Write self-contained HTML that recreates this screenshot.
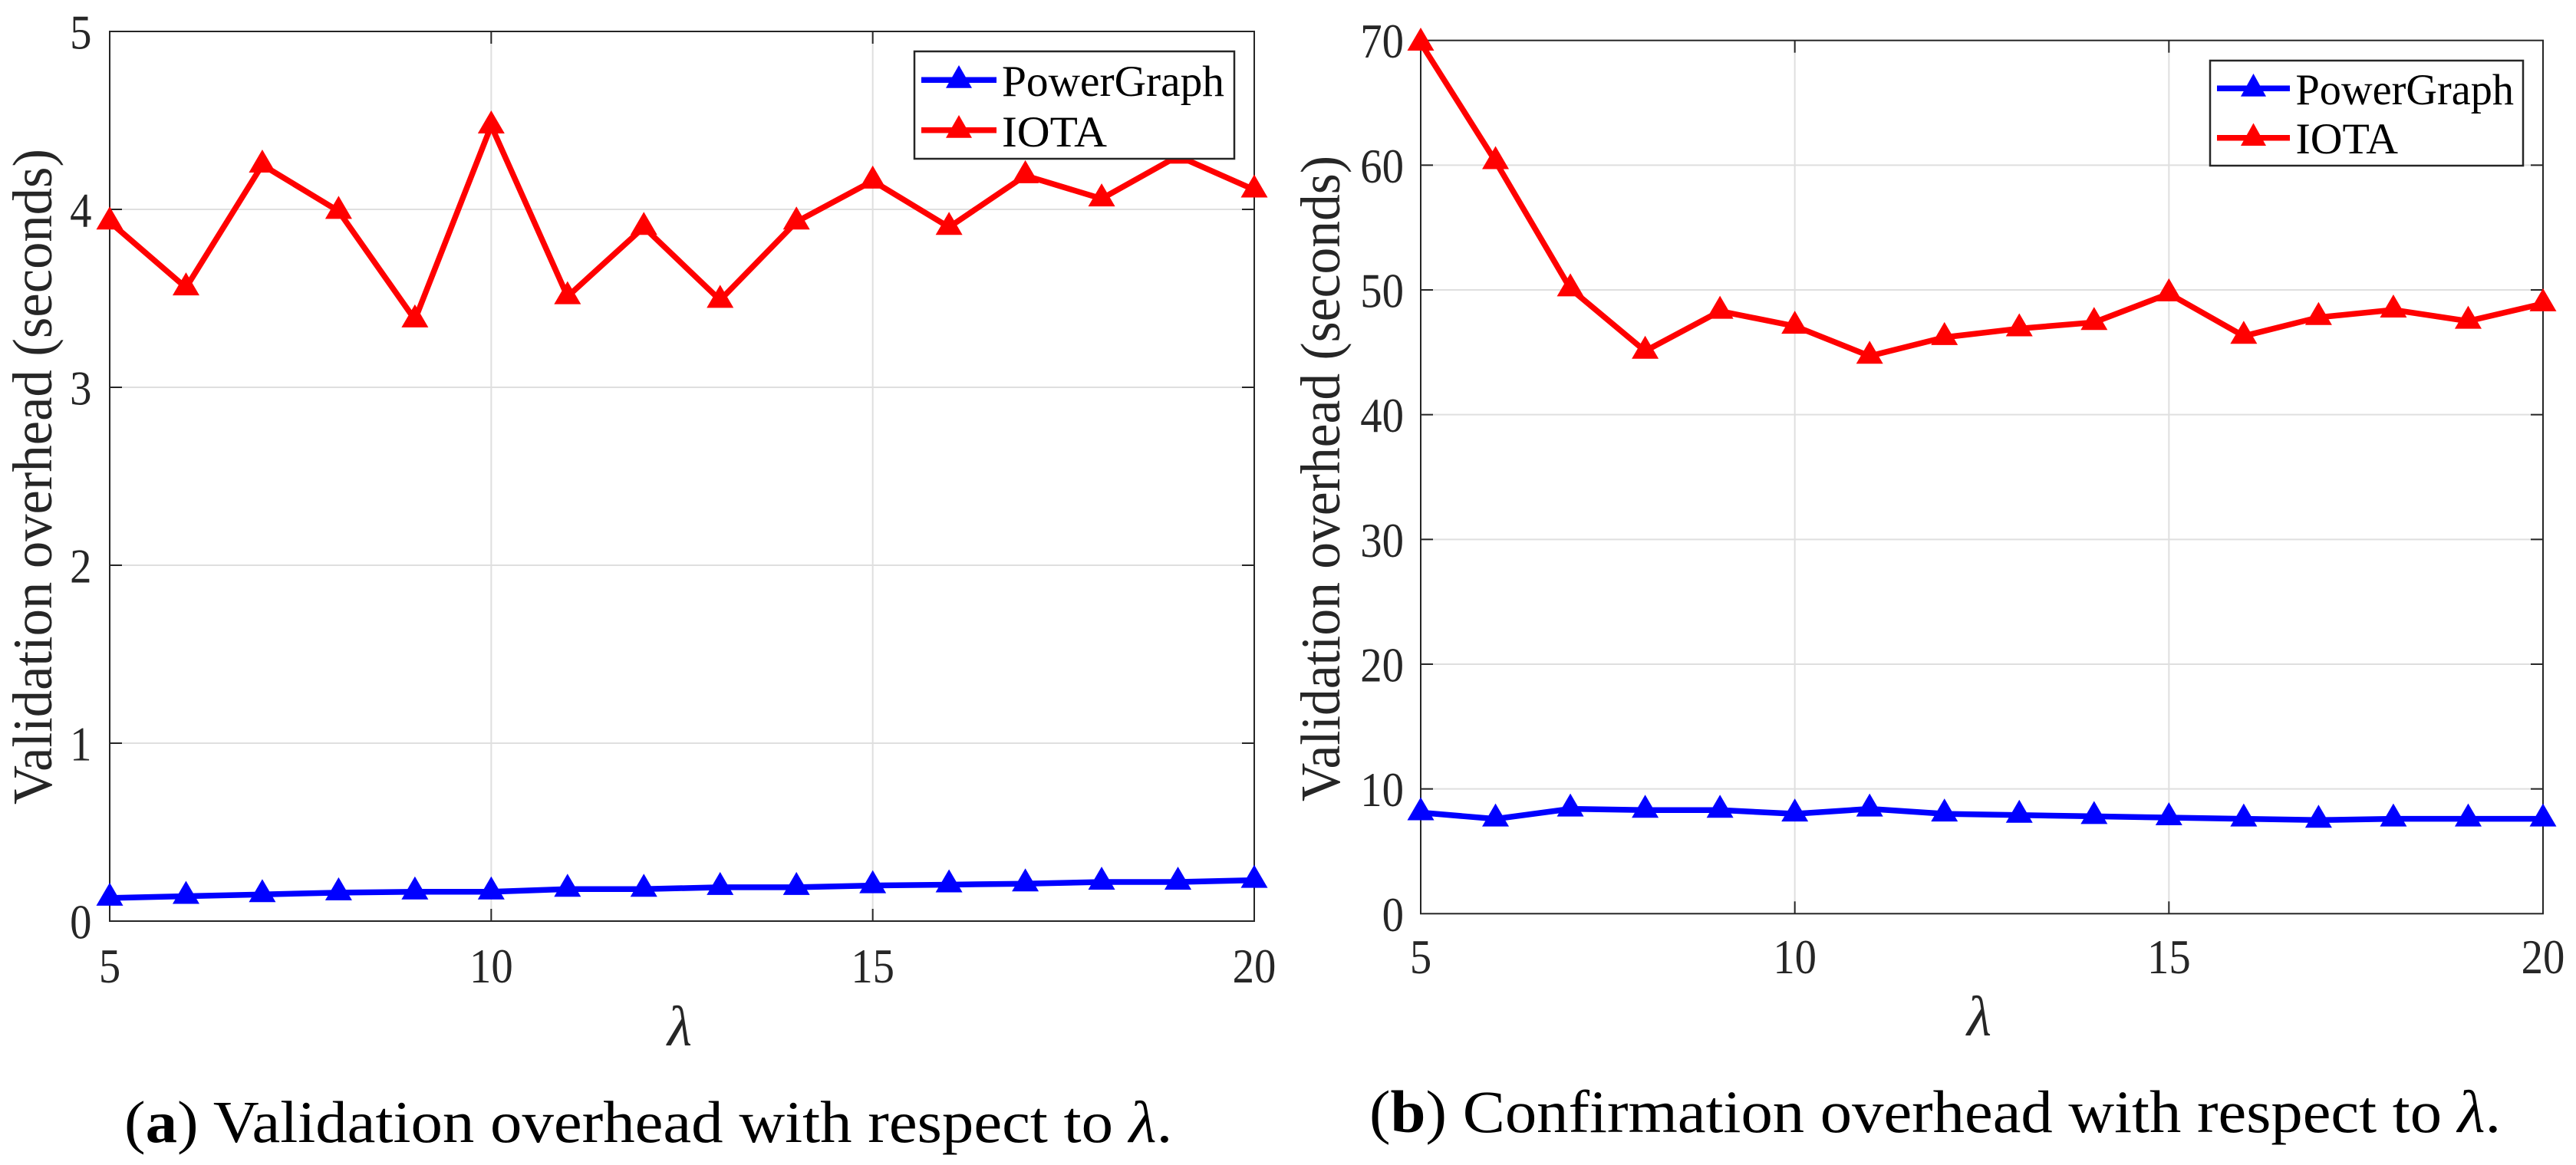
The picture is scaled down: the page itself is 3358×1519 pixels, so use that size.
<!DOCTYPE html>
<html lang="en">
<head>
<meta charset="utf-8">
<title>Validation and confirmation overhead with respect to lambda</title>
<style>
html,body{margin:0;padding:0;background:#fff;width:3358px;height:1519px;overflow:hidden}
svg{display:block}
text{font-family:"Liberation Serif",serif}
</style>
</head>
<body>
<svg id="figure" xmlns="http://www.w3.org/2000/svg" width="3358" height="1519" viewBox="0 0 3358 1519">
  <rect x="0" y="0" width="3358" height="1519" fill="#fff"/>
  <g id="panel-a"></g>
  <g id="panel-b"></g>

  <g>
    <rect x="1192" y="67" width="417" height="140" fill="#fff" stroke="#262626" stroke-width="2.5"/>
    <line x1="1201" x2="1299" y1="104.3" y2="104.3" stroke="#0000ff" stroke-width="7.5"/>
    <polygon points="1250,85 1267,114.7 1233,114.7" fill="#0000ff"/>
    <text x="1306" y="125" font-size="57" fill="#000" textLength="290" lengthAdjust="spacingAndGlyphs">PowerGraph</text>
    <line x1="1201" x2="1299" y1="169.7" y2="169.7" stroke="#ff0000" stroke-width="7.5"/>
    <polygon points="1250,150 1267,179.7 1233,179.7" fill="#ff0000"/>
    <text x="1306" y="191" font-size="57" fill="#000" textLength="137" lengthAdjust="spacingAndGlyphs">IOTA</text>
  </g>

  <g>
    <rect x="2881" y="79" width="408" height="137" fill="#fff" stroke="#262626" stroke-width="2.5"/>
    <line x1="2890" x2="2985" y1="115.3" y2="115.3" stroke="#0000ff" stroke-width="7.5"/>
    <polygon points="2937.5,96 2954,125.7 2921,125.7" fill="#0000ff"/>
    <text x="2992.5" y="136" font-size="57" fill="#000" textLength="284.5" lengthAdjust="spacingAndGlyphs">PowerGraph</text>
    <line x1="2890" x2="2985" y1="179.7" y2="179.7" stroke="#ff0000" stroke-width="7.5"/>
    <polygon points="2937.5,160.5 2954,190 2921,190" fill="#ff0000"/>
    <text x="2992.5" y="200" font-size="57" fill="#000" textLength="133.5" lengthAdjust="spacingAndGlyphs">IOTA</text>
  </g>

  <text transform="translate(162,1489) scale(1.076,1)" font-size="77" fill="#000">(<tspan font-weight="bold">a</tspan>) Validation overhead with respect to <tspan font-style="italic">λ</tspan>.</text>
  <text transform="translate(1785,1476) scale(1.06,1)" font-size="78" fill="#000">(<tspan font-weight="bold">b</tspan>) Confirmation overhead with respect to <tspan font-style="italic">λ</tspan>.</text>
</svg>

<script>
const lambdaValues = [5,6,7,8,9,10,11,12,13,14,15,16,17,18,19,20];
const xTickValues = [5,10,15,20];

const panelAYTicks = [0,1,2,3,4,5];
const panelAPowerGraph = [0.13,0.14,0.15,0.16,0.165,0.165,0.18,0.18,0.19,0.19,0.2,0.205,0.21,0.22,0.22,0.23];
const panelAIota = [3.93,3.56,4.25,3.99,3.38,4.47,3.51,3.90,3.49,3.93,4.16,3.90,4.19,4.06,4.30,4.11];

const panelBYTicks = [0,10,20,30,40,50,60,70];
const panelBPowerGraph = [8.1,7.6,8.4,8.3,8.3,8.0,8.4,8.0,7.9,7.8,7.7,7.6,7.5,7.6,7.6,7.6];
const panelBIota = [69.8,60.3,50.1,45.1,48.3,47.1,44.7,46.2,46.9,47.4,49.7,46.3,47.8,48.4,47.5,48.9];

const SVG_NS = 'http://www.w3.org/2000/svg';
const AXIS_COLOR = '#262626';
const GRID_COLOR = '#dfdfdf';

function make(parent, tag, attrs) {
  const node = document.createElementNS(SVG_NS, tag);
  Object.keys(attrs).forEach(function (k) { node.setAttribute(k, attrs[k]); });
  parent.appendChild(node);
  return node;
}

function drawPanel(root, cfg, yTicks, powerGraph, iota) {
  const xMin = xTickValues[0];
  const xMax = xTickValues[xTickValues.length - 1];
  const yMin = yTicks[0];
  const yMax = yTicks[yTicks.length - 1];
  const xScale = function (v) { return cfg.left + (v - xMin) / (xMax - xMin) * (cfg.right - cfg.left); };
  const yScale = function (v) { return cfg.bottom - (v - yMin) / (yMax - yMin) * (cfg.bottom - cfg.top); };

  xTickValues.slice(1, -1).forEach(function (t) {
    const grid = make(root, 'line', {x1: xScale(t), x2: xScale(t), y1: cfg.top, y2: cfg.bottom, stroke: GRID_COLOR, 'stroke-width': 2});
    
    
  });
  yTicks.slice(1, -1).forEach(function (t) {
    const grid = make(root, 'line', {x1: cfg.left, x2: cfg.right, y1: yScale(t), y2: yScale(t), stroke: GRID_COLOR, 'stroke-width': 2});
    
    
  });

  const frame = make(root, 'rect', {x: cfg.left, y: cfg.top, width: cfg.right - cfg.left, height: cfg.bottom - cfg.top, fill: 'none', stroke: AXIS_COLOR, 'stroke-width': 2});
  
  

  xTickValues.slice(1, -1).forEach(function (t) {
    const bottomTick = make(root, 'line', {x1: xScale(t), x2: xScale(t), y1: cfg.bottom, y2: cfg.bottom - 16, stroke: AXIS_COLOR, 'stroke-width': 2});
    
    
    const topTick = make(root, 'line', {x1: xScale(t), x2: xScale(t), y1: cfg.top, y2: cfg.top + 16, stroke: AXIS_COLOR, 'stroke-width': 2});
    
    
  });
  yTicks.slice(1, -1).forEach(function (t) {
    const leftTick = make(root, 'line', {x1: cfg.left, x2: cfg.left + 16, y1: yScale(t), y2: yScale(t), stroke: AXIS_COLOR, 'stroke-width': 2});
    
    
    const rightTick = make(root, 'line', {x1: cfg.right, x2: cfg.right - 16, y1: yScale(t), y2: yScale(t), stroke: AXIS_COLOR, 'stroke-width': 2});
    
    
  });

  xTickValues.forEach(function (t) {
    const label = make(root, 'text', {transform: 'translate(' + xScale(t) + ',' + cfg.xLabelBaseline + ') scale(0.9,1)', 'font-size': 63, fill: AXIS_COLOR, 'text-anchor': 'middle'});
    
    
    label.textContent = t;
  });
  yTicks.forEach(function (t) {
    const label = make(root, 'text', {transform: 'translate(' + cfg.yLabelRight + ',' + (yScale(t) + 22.5) + ') scale(0.9,1)', 'font-size': 63, fill: AXIS_COLOR, 'text-anchor': 'end'});
    
    
    label.textContent = t;
  });

  const xTitle = make(root, 'text', {x: cfg.lambdaX, y: cfg.lambdaBaseline, 'font-size': 74, 'font-style': 'italic', fill: AXIS_COLOR});
  
  
  xTitle.textContent = 'λ';

  const yTitle = make(root, 'text', {transform: 'translate(' + cfg.yTitleX + ',' + cfg.yTitleBottom + ') rotate(-90)', 'font-size': 73, fill: AXIS_COLOR, textLength: cfg.yTitleLength, lengthAdjust: 'spacingAndGlyphs'});
  
  
  yTitle.textContent = 'Validation overhead (seconds)';

  drawSeries(root, 'powergraph', powerGraph, '#0000ff', xScale, yScale);
  drawSeries(root, 'iota', iota, '#ff0000', xScale, yScale);
}

function drawSeries(root, name, values, color, xScale, yScale) {
  const pts = values.map(function (v, i) { return xScale(lambdaValues[i]) + ',' + yScale(v); }).join(' ');
  const line = make(root, 'polyline', {points: pts, fill: 'none', stroke: color, 'stroke-width': 7.5, 'stroke-linejoin': 'miter'});
  
  
  values.forEach(function (v, i) {
    const cx = xScale(lambdaValues[i]);
    const cy = yScale(v);
    const marker = make(root, 'polygon', {points: cx + ',' + (cy - 20) + ' ' + (cx + 17.5) + ',' + (cy + 10) + ' ' + (cx - 17.5) + ',' + (cy + 10), fill: color});
    
    
  });
}

drawPanel(document.getElementById('panel-a'), {
  left: 143, right: 1635, top: 41, bottom: 1201,
  xLabelBaseline: 1281, yLabelRight: 119.5,
  lambdaX: 870, lambdaBaseline: 1363,
  yTitleX: 67, yTitleBottom: 1049, yTitleLength: 855
}, panelAYTicks, panelAPowerGraph, panelAIota);

drawPanel(document.getElementById('panel-b'), {
  left: 1852, right: 3315, top: 52.7, bottom: 1191.3,
  xLabelBaseline: 1269, yLabelRight: 1830,
  lambdaX: 2564, lambdaBaseline: 1350,
  yTitleX: 1746, yTitleBottom: 1045, yTitleLength: 842
}, panelBYTicks, panelBPowerGraph, panelBIota);
</script>
</body>
</html>
